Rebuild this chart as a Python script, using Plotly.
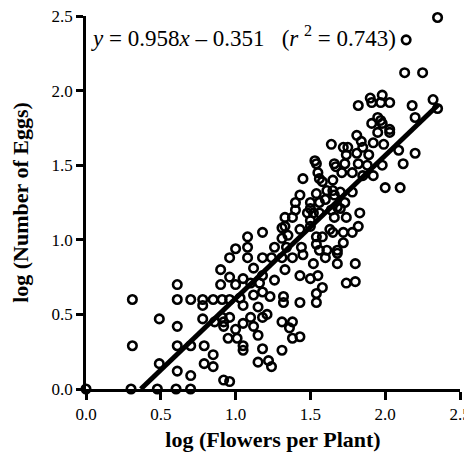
import plotly.graph_objects as go

# log (Flowers per Plant)
flowers = [
    0.0, 0.301, 0.477, 0.602, 0.699,
    0.31, 0.31, 0.49, 0.49, 0.61, 0.61, 0.61, 0.61, 0.61, 0.70, 0.70, 0.70,
    0.78, 0.78, 0.85, 0.78, 0.79, 0.79, 0.85, 0.85, 0.90, 0.90, 0.86,
    0.91, 0.96, 0.96, 1.00, 1.00, 1.08, 1.08, 1.05, 1.03, 0.96, 0.96, 0.91,
    1.12, 1.18, 1.10, 1.16, 1.26, 1.33, 1.43, 1.50, 1.55, 1.58, 1.45, 1.52, 1.68,
    1.05, 1.12, 1.18, 1.23, 1.32, 1.32, 1.43, 1.54, 1.54,
    0.92, 0.92, 1.00, 0.95, 1.01, 1.05, 1.10, 1.12, 1.15, 1.15, 1.18, 1.21,
    1.31, 1.36, 1.38, 1.38, 1.43, 1.05, 1.05, 1.18, 1.15, 1.22, 1.24, 1.31,
    0.92, 0.96,
    1.68, 1.80, 1.74, 1.80,
    1.64, 1.53, 1.54, 1.66, 1.67, 1.45, 1.55, 1.56, 1.58, 1.65, 1.54, 1.61, 1.65,
    1.43, 1.40, 1.40, 1.50, 1.50, 1.56, 1.60, 1.33, 1.38, 1.48, 1.52, 1.50, 1.56,
    1.64, 1.68, 1.31, 1.33, 1.18, 1.43, 1.50, 1.35, 1.31, 1.54, 1.58, 1.63, 1.65,
    1.08, 1.26, 1.34, 1.44, 1.54, 1.56, 1.61, 1.68, 1.18, 1.24, 1.31, 1.38, 1.60,
    1.81, 1.95, 2.03, 1.72, 1.75, 1.84, 1.85, 1.92, 1.99, 2.09, 2.20, 1.74, 1.81,
    1.89, 1.73, 1.82, 1.88, 1.98, 2.12, 1.71, 1.78, 1.85, 1.92, 2.00, 2.10, 1.70,
    1.66, 1.78, 1.73, 1.70, 1.83, 1.66, 1.74, 1.82, 1.78, 1.72, 1.72,
    2.35, 2.14, 2.13, 2.25, 1.82, 1.90, 1.91, 1.98, 1.97, 2.03, 2.18, 2.32, 2.35,
    1.95, 1.97, 1.98, 1.91, 2.03, 2.20,
]

# log (Number of Eggs)
eggs = [
    0.0, 0.0, 0.0, 0.0, 0.0,
    0.60, 0.29, 0.47, 0.17, 0.70, 0.60, 0.42, 0.29, 0.12, 0.60, 0.29, 0.09,
    0.60, 0.56, 0.60, 0.47, 0.29, 0.17, 0.23, 0.15, 0.80, 0.70, 0.45,
    0.60, 0.88, 0.75, 0.70, 0.94, 1.02, 0.95, 0.74, 0.61, 0.60, 0.48, 0.48,
    0.81, 0.76, 0.71, 0.71, 0.73, 0.80, 0.76, 0.74, 0.76, 0.68, 0.90, 0.84, 0.84,
    0.56, 0.63, 0.65, 0.62, 0.62, 0.58, 0.58, 0.64, 0.58,
    0.45, 0.42, 0.40, 0.34, 0.34, 0.44, 0.48, 0.42, 0.36, 0.55, 0.48, 0.50,
    0.45, 0.41, 0.45, 0.34, 0.35, 0.29, 0.26, 0.27, 0.18, 0.19, 0.15, 0.26,
    0.06, 0.05,
    0.91, 0.84, 0.71, 0.72,
    1.64, 1.53, 1.51, 1.51, 1.49, 1.41, 1.45, 1.41, 1.39, 1.40, 1.31, 1.33, 1.33,
    1.30, 1.25, 1.20, 1.25, 1.21, 1.25, 1.27, 1.15, 1.15, 1.18, 1.18, 1.13, 1.18,
    1.20, 1.22, 1.08, 1.09, 1.05, 1.07, 1.09, 1.03, 1.01, 1.02, 1.02, 1.07, 1.05,
    0.88, 0.95, 0.95, 0.95, 0.97, 0.93, 0.93, 0.93, 0.88, 0.88, 0.88, 0.88, 0.88,
    1.70, 1.72, 1.72, 1.62, 1.62, 1.66, 1.62, 1.65, 1.64, 1.60, 1.58, 1.57, 1.58,
    1.57, 1.51, 1.51, 1.50, 1.50, 1.51, 1.45, 1.45, 1.43, 1.43, 1.35, 1.35, 1.32,
    1.30, 1.32, 1.25, 1.21, 1.18, 1.15, 1.15, 1.09, 1.05, 1.05, 0.98,
    2.49, 2.34, 2.12, 2.12, 1.90, 1.95, 1.92, 1.97, 1.92, 1.92, 1.90, 1.94, 1.88,
    1.82, 1.80, 1.78, 1.78, 1.74, 1.82,
]

slope = 0.958
intercept = -0.351
r_squared = 0.743
fit_x = [-intercept / slope, 2.355]
fit_y = [slope * v + intercept for v in fit_x]

tick_vals = [0.0, 0.5, 1.0, 1.5, 2.0, 2.5]
tick_text = ["0.0", "0.5", "1.0", "1.5", "2.0", "2.5"]

SERIF = "Liberation Serif"

fig = go.Figure()
fig.add_trace(go.Scatter(
    x=flowers, y=eggs, mode="markers",
    marker=dict(symbol="circle-open", size=8.5, color="black",
                line=dict(width=2.6, color="black")),
    cliponaxis=False, showlegend=False,
))
fig.add_trace(go.Scatter(
    x=fit_x, y=fit_y, mode="lines",
    line=dict(color="black", width=5),
    showlegend=False,
))

fig.add_annotation(
    x=0.02, y=2.36, xref="x", yref="y", xanchor="left", yanchor="middle",
    showarrow=False,
    text=("<i>y</i> = %.3f<i>x</i> \u2013 %.3f&nbsp;&nbsp;&nbsp;(<i>r</i> <sup>2</sup> = %.3f)"
          % (slope, -intercept, r_squared)),
    font=dict(family=SERIF, size=23, color="black"),
)

axis_common = dict(
    showline=True, linecolor="black", linewidth=2.5,
    ticks="outside", tickcolor="black", tickwidth=2.5,
    showgrid=False, zeroline=False,
    tickvals=tick_vals, ticktext=tick_text,
    tickfont=dict(family=SERIF, size=17, color="black"),
    ticklabeloverflow="allow",
    range=[0, 2.5],
)

fig.update_xaxes(
    **axis_common, ticklen=8,
    title=dict(text="<b>log (Flowers per Plant)</b>",
               font=dict(family=SERIF, size=22, color="black"), standoff=9),
)
fig.update_yaxes(
    **axis_common, ticklen=7,
    title=dict(text="<b>log (Number of Eggs)</b>",
               font=dict(family=SERIF, size=22, color="black"), standoff=17),
)

# the page body adds an 8 px offset, so the figure is 8 px smaller each way
fig.update_layout(
    width=464, height=448,
    margin=dict(l=78, r=12, t=8, b=67, autoexpand=False),
    plot_bgcolor="white", paper_bgcolor="white",
)

fig.write_html("out.html")
